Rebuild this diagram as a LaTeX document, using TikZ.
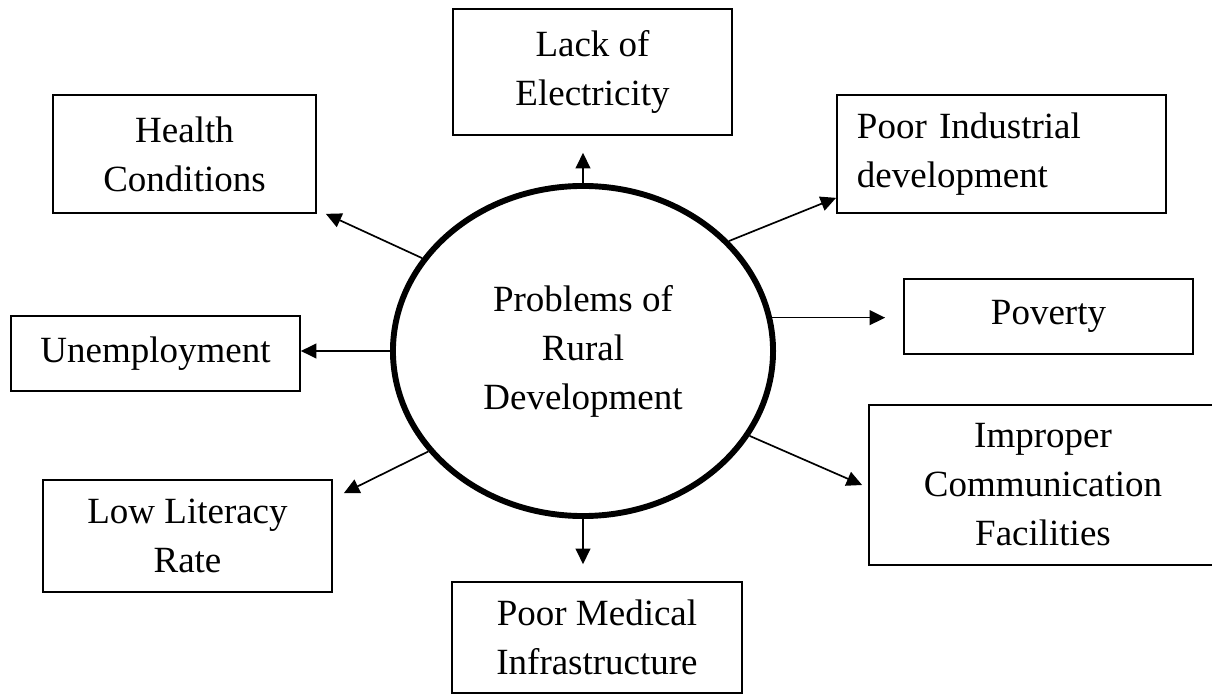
\documentclass[tikz,border=0pt]{standalone}
\usepackage{fontspec}
\setmainfont{Liberation Serif}
\usetikzlibrary{arrows.meta,shapes.geometric}

\begin{document}
\begin{tikzpicture}[x=0.025cm, y=0.025cm,
  every node/.style={font=\fontsize{26.3pt}{34.8pt}\selectfont},
  box/.style={draw, line width=1.2pt, rectangle, align=center, inner sep=0pt},
  arr/.style={line width=1.2pt, -{Triangle[length=11pt,width=10.5pt]}}]
\useasboundingbox (0,0) rectangle (1212,-694);
\clip (0,0) rectangle (1212,-694);
\node[draw, ellipse, line width=4.2pt, minimum width=9.5cm, minimum height=8.25cm, inner sep=0pt, align=center] (0) at (583,-351) {Problems of\\Rural\\Development};
\node[box, minimum width=6.975cm, minimum height=3.15cm] (1) at (592.5,-72) {Lack of\\Electricity};
\node[box, text width=7.225cm, inner xsep=0.5cm, minimum height=2.95cm, align=left] (2) at (1001.5,-154) {Poor Industrial\\development};
\node[box, minimum width=7.225cm, minimum height=1.875cm] (3) at (1048.5,-316.5) {Poverty};
\node[box, minimum width=8.7cm, minimum height=4cm] (4) at (1043,-485) {Improper\\Communication\\Facilities};
\node[box, minimum width=7.25cm, minimum height=2.775cm] (5) at (597,-637.5) {Poor Medical\\Infrastructure};
\node[box, minimum width=7.225cm, minimum height=2.8cm] (6) at (187.5,-536) {Low Literacy\\Rate};
\node[box, minimum width=7.225cm, minimum height=1.875cm] (7) at (155.5,-353.5) {Unemployment};
\node[box, minimum width=6.575cm, minimum height=2.95cm] (8) at (184.5,-154) {Health\\Conditions};
\path[draw,arr,shorten >=0.425cm] (0.north) -- (0.north |- 1.south);
\path[draw,arr] (0.37) -- ([yshift=0.4cm]2.south west);
\path[draw,arr,shorten >=0.45cm] (0.10) -- (0.10 -| 3.west);
\path[draw,arr] (0.-27) -- ([xshift=-0.15cm]4.west);
\path[draw,arr,shorten >=0.425cm] (0.south) -- (0.south |- 5.north);
\path[draw,arr] (0.213) -- ([xshift=0.275cm,yshift=-0.35cm]6.north east);
\path[draw,arr] (0.west) -- (0.west -| 7.east);
\path[draw,arr] (0.150) -- ([xshift=0.225cm]8.south east);
\end{tikzpicture}
\end{document}
